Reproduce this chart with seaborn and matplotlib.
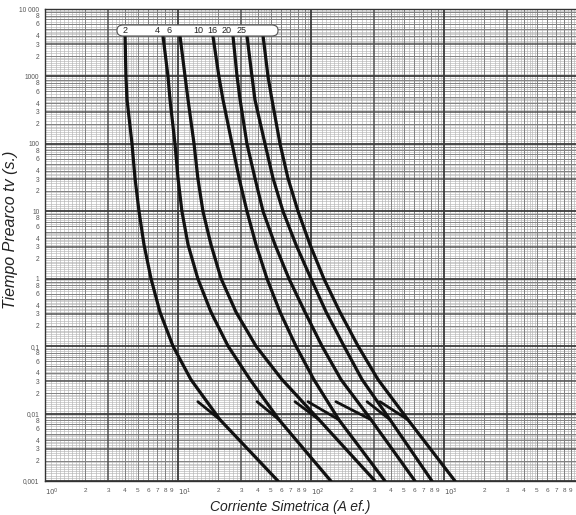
import numpy as np
import pandas as pd
import matplotlib
matplotlib.use("Agg")
import matplotlib.pyplot as plt
import seaborn as sns
from matplotlib.patches import FancyBboxPatch

# ---------------- data ----------------
ratings = ["2", "4", "6", "10", "16", "20", "25"]
times = [4000, 1000, 450, 100, 31, 10, 3.2, 1, 0.32, 0.1, 0.032, 0.0081, 0.001]
curve_2A = [4.0, 4.06, 4.14, 4.51, 4.75, 5.09, 5.55, 6.27, 7.32, 9.17, 12.5, 20.7, 56.5]
curve_4A = [7.71, 8.41, 8.71, 9.49, 10.0, 10.7, 11.9, 14.1, 17.7, 23.8, 34.8, 57.5, 141]
curve_6A = [10.35, 11.3, 11.9, 13.2, 14.1, 15.4, 17.7, 21.1, 27.3, 38.6, 60.5, 115, 303]
curve_10A = [18.3, 20.3, 21.8, 25.5, 28.8, 33.0, 38.6, 46.7, 58.5, 77.1, 105, 162, 360]
curve_16A = [25.9, 27.8, 29.3, 33.0, 37.9, 43.6, 53.6, 68.3, 90.1, 121, 168, 283, 605]
curve_20A = [33.0, 36.0, 37.9, 45.1, 51.8, 61.6, 77.1, 100, 130, 177, 242, 393, 812]
curve_25A = [43.6, 47.5, 50.9, 58.5, 67.1, 79.9, 98.3, 125, 165, 226, 319, 536, 1210]

short_t = [0.015, 0.0081]
short_start_I = [14.1, 39.3, 75.8, 94.9, 154, 264, 330]
short_end_I = [20.7, 57.5, 115, 162, 283, 393, 536]

label_I = [3.99, 6.95, 8.56, 14.1, 18.0, 23.0, 29.8]
label_t = 4880

y_major = [1e4, 1e3, 1e2, 1e1, 1, 0.1, 0.01, 0.001]
y_major_labels = ["10 000", "1000", "100", "10", "1", "0,1", "0,01", "0,001"]
y_minor_digits = [8, 6, 4, 3, 2]
x_major = [1, 10, 100, 1000]
x_major_labels = ["$10^0$", "$10^1$", "$10^2$", "$10^3$"]
x_minor_digits = [2, 3, 4, 5, 6, 7, 8, 9]

# ---------------- figure ----------------
sns.set_style("white")
plt.rcParams['font.family'] = ['Liberation Sans', 'DejaVu Sans']

fig = plt.figure(figsize=(5.76, 5.15), dpi=100)
ax = fig.add_axes([45 / 576, 1 - 481 / 515, 532 / 576, 472 / 515])
ax.set_xscale("log")
ax.set_yscale("log")
ax.set_xlim(1, 1e4)
ax.set_ylim(1e-3, 1e4)

# graph-paper grid
def paper_lines(lo_exp, hi_exp, vertical):
    line = ax.axvline if vertical else ax.axhline
    fine = list(np.arange(1.1, 2.0, 0.1)) + [v for v in np.arange(2.2, 5.0, 0.2)
                                             if abs(v - round(v)) > 1e-6] + \
        [5.5, 6.5, 7.5, 8.5, 9.5]
    for e in range(lo_exp, hi_exp):
        base = 10.0 ** e
        for f in fine:
            line(f * base, color="#b4b4b4", lw=0.45, zorder=0)
        for d in range(2, 10):
            if d == 3:
                line(d * base, color="#505050", lw=1.1, zorder=0.3)
            else:
                line(d * base, color="#808080", lw=0.7, zorder=0.2)
        line(base, color="#3a3a3a", lw=1.3, zorder=0.4)

paper_lines(0, 4, True)
paper_lines(-3, 4, False)

# curves
curves = [curve_2A, curve_4A, curve_6A, curve_10A, curve_16A, curve_20A, curve_25A]
rows = []
for r, c in zip(ratings, curves):
    for I, t in zip(c, times):
        rows.append({"fuse": r, "I": I, "t": t})
df = pd.DataFrame(rows)
sns.lineplot(data=df, x="I", y="t", hue="fuse", units="fuse", estimator=None,
             sort=False, palette=["#111111"] * len(ratings), linewidth=2.3,
             legend=False, ax=ax, zorder=3)

rows_s = []
for i, (a, b) in enumerate(zip(short_start_I, short_end_I)):
    rows_s.append({"seg": i, "I": a, "t": short_t[0]})
    rows_s.append({"seg": i, "I": b, "t": short_t[1]})
ds = pd.DataFrame(rows_s)
sns.lineplot(data=ds, x="I", y="t", units="seg", estimator=None, sort=False,
             color="#111111", linewidth=2.0, legend=False, ax=ax, zorder=3)

# label box at top
box = FancyBboxPatch(((117 - 45) / 532, (481 - 36) / 472), (278 - 117) / 532, 11 / 472,
                     boxstyle="round,pad=0,rounding_size=0.012", transform=ax.transAxes,
                     facecolor="white", edgecolor="#555555", lw=0.8, zorder=4,
                     mutation_aspect=0.9)
ax.add_patch(box)
for lab, xi in zip(ratings, label_I):
    ax.text(xi, label_t, lab, ha="center", va="center", fontsize=6.5,
            color="#222222", zorder=5)

# ticks and labels
ax.set_xticks(x_major)
ax.set_xticklabels(x_major_labels)
for lbl in ax.get_xticklabels():
    lbl.set_horizontalalignment("left")
xmin = [d * 10 ** e for e in range(0, 4) for d in x_minor_digits]
ax.set_xticks(xmin, minor=True)
ax.set_xticklabels([str(d) for e in range(0, 4) for d in x_minor_digits], minor=True)
ax.set_yticks(y_major)
ax.set_yticklabels(y_major_labels)
ymin = [d * 10.0 ** e for e in range(-3, 4) for d in y_minor_digits]
ax.set_yticks(ymin, minor=True)
ax.set_yticklabels([str(d) for e in range(-3, 4) for d in y_minor_digits], minor=True)
ax.tick_params(which="both", length=0, colors="#555555")
ax.tick_params(axis="x", which="major", labelsize=5, pad=4)
ax.tick_params(axis="x", which="minor", labelsize=4.6, pad=5)
ax.tick_params(axis="y", which="both", labelsize=4.8, pad=4)
ax.grid(False)
for s in ax.spines.values():
    s.set_color("#333333")
    s.set_linewidth(1.0)

ax.set_xlabel("Corriente Simetrica (A ef.)", fontsize=10, style="italic",
              color="#222222", labelpad=6)
ax.set_ylabel("Tiempo Prearco tv (s.)", fontsize=11.5, style="italic",
              color="#222222", labelpad=4)
ax.xaxis.set_label_coords((290 - 45) / 532, -(500 - 481) / 472)
ax.yaxis.set_label_coords(-(45 - 18) / 532, (481 - 230) / 472)

fig.savefig("out.png", dpi=100)
